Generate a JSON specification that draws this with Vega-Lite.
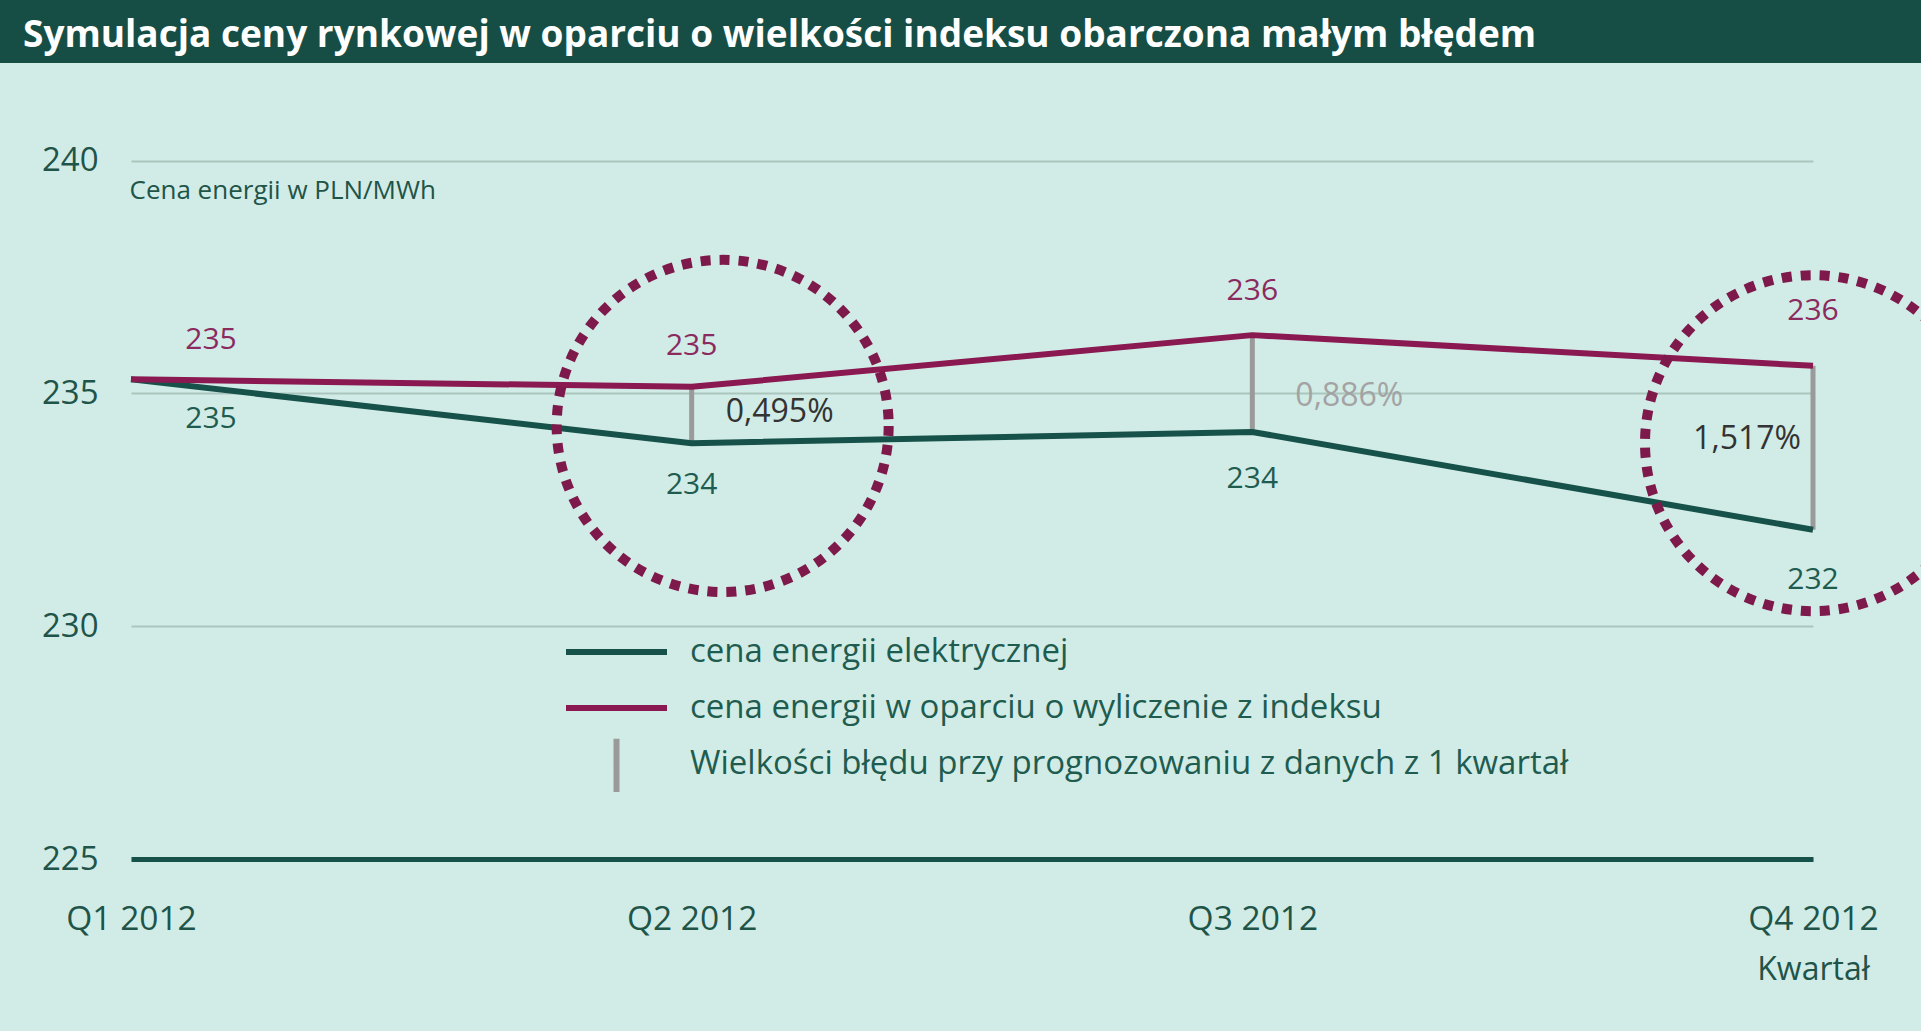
{
  "$schema": "https://vega.github.io/schema/vega-lite/v6.json",
  "background": "#164e45",
  "autosize": "none",
  "padding": {"left": 0, "top": 63, "right": 0, "bottom": 0},
  "width": 1921,
  "height": 968,
  "view": {"fill": "#d1ece6", "stroke": null},
  "config": {"font": "Open Sans"},
  "title": {
    "text": "Symulacja ceny rynkowej w oparciu o wielkości indeksu obarczona małym błędem",
    "anchor": "start", "frame": "group", "orient": "top", "offset": -21, "dx": 23,
    "baseline": "alphabetic", "color": "#ffffff", "font": "Open Sans", "fontSize": 37, "fontWeight": "bold"
  },
  "datasets": {
    "prices": [
      {"q": "Q1 2012", "series": "cena energii elektrycznej", "v": 235.3},
      {"q": "Q2 2012", "series": "cena energii elektrycznej", "v": 233.93},
      {"q": "Q3 2012", "series": "cena energii elektrycznej", "v": 234.17},
      {"q": "Q4 2012", "series": "cena energii elektrycznej", "v": 232.07},
      {"q": "Q1 2012", "series": "cena energii w oparciu o wyliczenie z indeksu", "v": 235.3},
      {"q": "Q2 2012", "series": "cena energii w oparciu o wyliczenie z indeksu", "v": 235.14},
      {"q": "Q3 2012", "series": "cena energii w oparciu o wyliczenie z indeksu", "v": 236.25},
      {"q": "Q4 2012", "series": "cena energii w oparciu o wyliczenie z indeksu", "v": 235.59}
    ],
    "errors": [
      {"q": "Q2 2012", "pred": 235.14, "act": 233.93, "pct": "0,495%", "ly": 234.6},
      {"q": "Q3 2012", "pred": 236.25, "act": 234.17, "pct": "0,886%", "ly": 234.95},
      {"q": "Q4 2012", "pred": 235.59, "act": 232.07, "pct": "1,517%", "ly": 234.03}
    ],
    "circles": [
      {"q": "Q2 2012", "c": 234.3},
      {"q": "Q4 2012", "c": 233.93}
    ]
  },
  "encoding": {
    "x": {
      "field": "q", "type": "ordinal",
      "scale": {"type": "point", "range": [131, 1813], "padding": 0},
      "axis": {
        "title": "Kwartał", "titleX": 1813, "titleY": 110, "titleAlign": "center", "titleBaseline": "middle",
        "titleFontSize": 32, "titleFontWeight": "normal", "titleColor": "#1f5449", "titleFont": "Open Sans",
        "labelAngle": 0, "labelFontSize": 33.5, "labelFont": "Open Sans", "labelColor": "#1f5449",
        "labelPadding": 60, "labelBaseline": "middle", "ticks": false, "tickSize": 0,
        "offset": -172, "domainColor": "#17524a", "domainWidth": 5, "grid": false, "zindex": 1
      }
    }
  },
  "layer": [
    {
      "data": {"name": "errors"},
      "mark": {"type": "rule", "strokeWidth": 5},
      "encoding": {
        "y": {"field": "pred", "type": "quantitative", "title": "Cena energii w PLN/MWh"},
        "y2": {"field": "act"},
        "color": {"datum": "Wielkości błędu przy prognozowaniu z danych z 1 kwartał", "type": "nominal"}
      }
    },
    {
      "data": {"name": "prices"},
      "mark": {"type": "line", "strokeWidth": 6, "strokeJoin": "round"},
      "encoding": {
        "y": {
          "field": "v", "type": "quantitative", "title": "Cena energii w PLN/MWh",
          "scale": {"domain": [225, 240], "range": [796, 97.5], "zero": false, "nice": false},
          "axis": {
            "values": [225, 230, 235, 240], "format": "d", "offset": -131, "labelPadding": 33, "ticks": false, "tickSize": 0,
            "domain": false, "labelFontSize": 33, "labelFont": "Open Sans", "labelColor": "#1f5449",
            "gridColor": "#a9c5be", "gridWidth": 2,
            "titleAngle": 0, "titleX": -2, "titleY": 127, "titleAlign": "left", "titleBaseline": "middle",
            "titleFontSize": 26, "titleFontWeight": "normal", "titleColor": "#1f5449", "titleFont": "Open Sans"
          }
        },
        "color": {
          "field": "series", "type": "nominal",
          "scale": {
            "domain": ["cena energii elektrycznej", "cena energii w oparciu o wyliczenie z indeksu", "Wielkości błędu przy prognozowaniu z danych z 1 kwartał"],
            "range": ["#17524a", "#8a1851", "#9a9a9a"]
          },
          "legend": {
            "orient": "none", "legendX": 563, "legendY": 561, "title": null, "direction": "vertical",
            "symbolType": "stroke", "symbolSize": 10201, "symbolStrokeWidth": 6,
            "labelFontSize": 33, "labelFont": "Open Sans", "labelColor": "#1f5c50", "labelLimit": 2000,
            "labelOffset": 20, "rowPadding": -2, "clipHeight": 56, "padding": 0,
            "encode": {"symbols": {"update": {"shape": {"signal": "datum.value === 'Wielkości błędu przy prognozowaniu z danych z 1 kwartał' ? 'M0,-0.5V0.6' : 'stroke'"}}}}
          }
        }
      }
    },
    {
      "data": {"name": "prices"},
      "transform": [{"filter": "datum.series == 'cena energii w oparciu o wyliczenie z indeksu' && datum.q == 'Q1 2012'"}],
      "mark": {"type": "text", "dx": 80, "dy": -39, "fontSize": 30, "font": "Open Sans", "color": "#8b2a5e"},
      "encoding": {"y": {"field": "v", "type": "quantitative", "title": "Cena energii w PLN/MWh"}, "text": {"field": "v", "type": "quantitative", "format": ".0f"}}
    },
    {
      "data": {"name": "prices"},
      "transform": [{"filter": "datum.series == 'cena energii w oparciu o wyliczenie z indeksu' && datum.q == 'Q2 2012'"}],
      "mark": {"type": "text", "dy": -41, "fontSize": 30, "font": "Open Sans", "color": "#8b2a5e"},
      "encoding": {"y": {"field": "v", "type": "quantitative", "title": "Cena energii w PLN/MWh"}, "text": {"field": "v", "type": "quantitative", "format": ".0f"}}
    },
    {
      "data": {"name": "prices"},
      "transform": [{"filter": "datum.series == 'cena energii w oparciu o wyliczenie z indeksu' && datum.q == 'Q3 2012'"}],
      "mark": {"type": "text", "dy": -44, "fontSize": 30, "font": "Open Sans", "color": "#8b2a5e"},
      "encoding": {"y": {"field": "v", "type": "quantitative", "title": "Cena energii w PLN/MWh"}, "text": {"field": "v", "type": "quantitative", "format": ".0f"}}
    },
    {
      "data": {"name": "prices"},
      "transform": [{"filter": "datum.series == 'cena energii w oparciu o wyliczenie z indeksu' && datum.q == 'Q4 2012'"}],
      "mark": {"type": "text", "dy": -55, "fontSize": 30, "font": "Open Sans", "color": "#8b2a5e"},
      "encoding": {"y": {"field": "v", "type": "quantitative", "title": "Cena energii w PLN/MWh"}, "text": {"field": "v", "type": "quantitative", "format": ".0f"}}
    },
    {
      "data": {"name": "prices"},
      "transform": [{"filter": "datum.series == 'cena energii elektrycznej' && datum.q == 'Q1 2012'"}],
      "mark": {"type": "text", "dx": 80, "dy": 40, "fontSize": 30, "font": "Open Sans", "color": "#1f5c50"},
      "encoding": {"y": {"field": "v", "type": "quantitative", "title": "Cena energii w PLN/MWh"}, "text": {"field": "v", "type": "quantitative", "format": ".0f"}}
    },
    {
      "data": {"name": "prices"},
      "transform": [{"filter": "datum.series == 'cena energii elektrycznej' && datum.q == 'Q2 2012'"}],
      "mark": {"type": "text", "dy": 42, "fontSize": 30, "font": "Open Sans", "color": "#1f5c50"},
      "encoding": {"y": {"field": "v", "type": "quantitative", "title": "Cena energii w PLN/MWh"}, "text": {"field": "v", "type": "quantitative", "format": ".0f"}}
    },
    {
      "data": {"name": "prices"},
      "transform": [{"filter": "datum.series == 'cena energii elektrycznej' && datum.q == 'Q3 2012'"}],
      "mark": {"type": "text", "dy": 47, "fontSize": 30, "font": "Open Sans", "color": "#1f5c50"},
      "encoding": {"y": {"field": "v", "type": "quantitative", "title": "Cena energii w PLN/MWh"}, "text": {"field": "v", "type": "quantitative", "format": ".0f"}}
    },
    {
      "data": {"name": "prices"},
      "transform": [{"filter": "datum.series == 'cena energii elektrycznej' && datum.q == 'Q4 2012'"}],
      "mark": {"type": "text", "dy": 50, "fontSize": 30, "font": "Open Sans", "color": "#1f5c50"},
      "encoding": {"y": {"field": "v", "type": "quantitative", "title": "Cena energii w PLN/MWh"}, "text": {"field": "v", "type": "quantitative", "format": ".0f"}}
    },
    {
      "data": {"name": "errors"},
      "transform": [{"filter": "datum.q == 'Q2 2012'"}],
      "mark": {"type": "text", "align": "left", "dx": 34, "fontSize": 32, "font": "Open Sans", "color": "#333333"},
      "encoding": {"y": {"field": "ly", "type": "quantitative", "title": "Cena energii w PLN/MWh"}, "text": {"field": "pct"}}
    },
    {
      "data": {"name": "errors"},
      "transform": [{"filter": "datum.q == 'Q3 2012'"}],
      "mark": {"type": "text", "align": "left", "dx": 43, "fontSize": 32, "font": "Open Sans", "color": "#a3a3a3"},
      "encoding": {"y": {"field": "ly", "type": "quantitative", "title": "Cena energii w PLN/MWh"}, "text": {"field": "pct"}}
    },
    {
      "data": {"name": "errors"},
      "transform": [{"filter": "datum.q == 'Q4 2012'"}],
      "mark": {"type": "text", "align": "right", "dx": -12, "fontSize": 32, "font": "Open Sans", "color": "#333333"},
      "encoding": {"y": {"field": "ly", "type": "quantitative", "title": "Cena energii w PLN/MWh"}, "text": {"field": "pct"}}
    },
    {
      "data": {"name": "circles"},
      "transform": [{"filter": "datum.q == 'Q2 2012'"}],
      "mark": {"type": "point", "shape": "circle", "filled": false, "size": 110224, "xOffset": 31, "stroke": "#7e1a4b", "strokeWidth": 10, "strokeDash": [10, 9], "opacity": 1},
      "encoding": {"y": {"field": "c", "type": "quantitative", "title": "Cena energii w PLN/MWh"}}
    },
    {
      "data": {"name": "circles"},
      "transform": [{"filter": "datum.q == 'Q4 2012'"}],
      "mark": {"type": "point", "shape": "circle", "filled": false, "size": 112896, "clip": true, "stroke": "#7e1a4b", "strokeWidth": 10, "strokeDash": [10, 9], "opacity": 1},
      "encoding": {"y": {"field": "c", "type": "quantitative", "title": "Cena energii w PLN/MWh"}}
    }
  ]
}
